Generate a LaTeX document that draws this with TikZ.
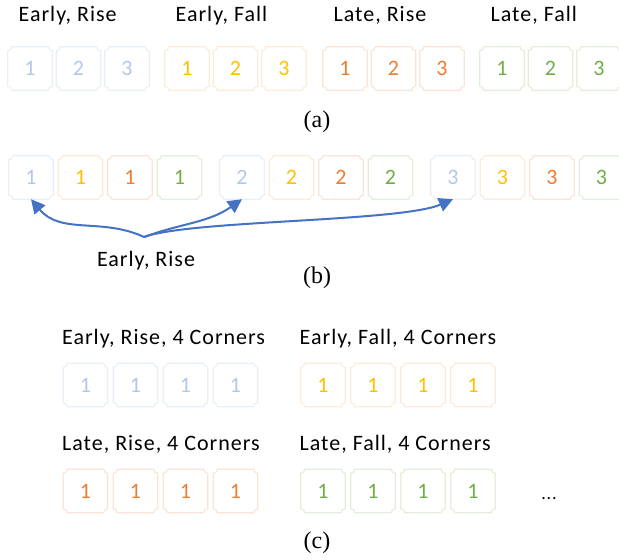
\documentclass[tikz,border=0pt]{standalone}
\usepackage{fontspec}
\usetikzlibrary{arrows.meta}
\newfontfamily\calib[LetterSpace=4.5]{Carlito}
\newfontfamily\calibd{Carlito}
\newfontfamily\tnr{Liberation Serif}

\definecolor{erT}{HTML}{B4C7E7}\definecolor{erB}{HTML}{E9EFF8}
\definecolor{efT}{HTML}{FFC000}\definecolor{efB}{HTML}{FDEBDA}
\definecolor{lrT}{HTML}{ED7D31}\definecolor{lrB}{HTML}{FBE3D7}
\definecolor{lfT}{HTML}{70AD47}\definecolor{lfB}{HTML}{E3EDDC}
\definecolor{linkblue}{HTML}{4472C4}

\tikzset{cell/.style 2 args = {minimum width=44pt, minimum height=43pt, inner sep=0pt,
           text=#1, font=\calibd\fontsize{22}{26}\selectfont,
           append after command={\pgfextra{\draw[#2, line width=1.2pt]
             ([yshift=4pt]\tikzlastnode.south west) arc[start angle=90, end angle=0, radius=4pt]
             -- ([xshift=-4pt]\tikzlastnode.south east) arc[start angle=180, end angle=90, radius=4pt]
             -- ([yshift=-4pt]\tikzlastnode.north east) arc[start angle=270, end angle=180, radius=4pt]
             -- ([xshift=4pt]\tikzlastnode.north west) arc[start angle=0, end angle=-90, radius=4pt]
             -- cycle;}}},
         er/.style = {cell={erT}{erB}},
         ef/.style = {cell={efT}{efB}},
         lr/.style = {cell={lrT}{lrB}},
         lf/.style = {cell={lfT}{lfB}},
         lab/.style = {font=\calib\fontsize{22}{26}\selectfont, anchor=base west, inner sep=0pt},
         subcap/.style = {font=\tnr\fontsize{24}{28}\selectfont, inner sep=0pt},
         link/.style = {draw=linkblue, line width=2pt, -{Triangle[length=14pt,width=14pt]}}}

\begin{document}
\begin{tikzpicture}[x=1pt,y=1pt]
    \useasboundingbox (0,0) rectangle (619,-560);

    % (a) one block of three per case
    \foreach \s/\x/\t in {er/30/{Early, Rise}, ef/187/{Early, Fall}, lr/345/{Late, Rise}, lf/502/{Late, Fall}}{
        \node[lab] (a-\s) at (\x-11.5,-21) {\t};
        \foreach \k in {1,2,3}
            \node[\s] (a-\s-\k) at (\x+48.5*\k-48.5,-68.5) {\k};
    }
    \node[subcap] (cap-a) at (317,-122) {(a)};

    % (b) interleaved
    \foreach \g/\x in {1/31,2/242,3/453}
        \foreach \s/\k in {er/0,ef/1,lr/2,lf/3}
            \node[\s] (b-\s-\g) at (\x+49.5*\k,-177.5) {\g};

    \node[lab,anchor=base] (note) at (146,-266) {Early, Rise};
    \coordinate (fork) at (144,-237);
    \draw[link] (fork) to[out=155,in=-50] (b-er-1.south);
    \draw[link] (fork) to[out=20,in=-145] (b-er-2.south);
    \draw[link] (fork) .. controls (190,-220) and (400,-222) .. (b-er-3.south);
    \node[subcap] (cap-b) at (317,-278) {(b)};

    % (c) four corners
    \foreach \s/\x/\y/\t in {er/85.5/385/{Early, Rise}, ef/323/385/{Early, Fall}, lr/85.5/491/{Late, Rise}, lf/323/491/{Late, Fall}}{
        \node[lab] (c-\s) at (\x-23.5,-\y+41) {\t, 4 Corners};
        \foreach \k in {1,...,4}
            \node[\s] (c-\s-\k) at (\x+50*\k-50,-\y) {1};
    }
    \node[lab,anchor=base,font=\calib\fontsize{18}{22}\selectfont] (more) at (549,-499) {...};
    \node[subcap] (cap-c) at (317,-543) {(c)};
\end{tikzpicture}
\end{document}
